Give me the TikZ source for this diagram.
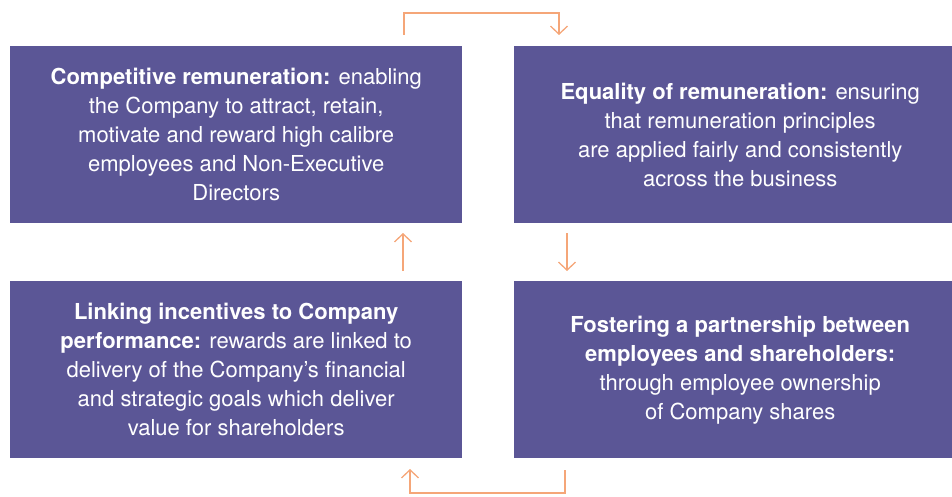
\documentclass[tikz,border=0pt]{standalone}
\usepackage{fontspec}
\setmainfont{TeX Gyre Heros}
\usetikzlibrary{arrows.meta}
\definecolor{boxcol}{RGB}{91,86,150}
\definecolor{arrcol}{RGB}{245,166,120}
\begin{document}
\begin{tikzpicture}[x=1pt,y=-1pt,
  card/.style={fill=boxcol, draw=none, anchor=north west, inner sep=0pt,
    text=white, align=center, font=\fontsize{22}{29}\selectfont,
    minimum width=452pt, minimum height=177pt},
  flow/.style={draw=arrcol, line width=1.3pt,
    -{Straight Barb[length=8pt,width=17pt,line width=1.3pt]}}]
\useasboundingbox (0,0) rectangle (952,497);
\begin{scope}
\clip (0,0) rectangle (952,497);
\node[card] (tl) at (10,46)
  {\textbf{Competitive remuneration:} enabling\\the Company to attract, retain,\\motivate and reward high calibre\\employees and Non-Executive\\Directors};
\node[card] (tr) at (514,46)
  {\textbf{Equality of remuneration:} ensuring\\that remuneration principles\\are applied fairly and consistently\\across the business};
\node[card] (bl) at (10,281)
  {\textbf{Linking incentives to Company}\\\textbf{performance:} rewards are linked to\\delivery of the Company’s financial\\and strategic goals which deliver\\value for shareholders};
\node[card] (br) at (514,281)
  {\textbf{Fostering a partnership between}\\\textbf{employees and shareholders:}\\through employee ownership\\of Company shares};
\end{scope}
\coordinate (t1) at (404,35);
\coordinate (t2) at (559,35);
\coordinate (r1) at (567,233);
\coordinate (r2) at (567,271);
\coordinate (b1) at (565,470);
\coordinate (b2) at (410,469);
\coordinate (l1) at (403,271);
\coordinate (l2) at (403,233);
\draw[flow] (t1) -- (404,13) -| (t2);
\draw[flow] (r1) -- (r2);
\draw[flow] (b1) -- (565,493) -| (b2);
\draw[flow] (l1) -- (l2);
\end{tikzpicture}
\end{document}
